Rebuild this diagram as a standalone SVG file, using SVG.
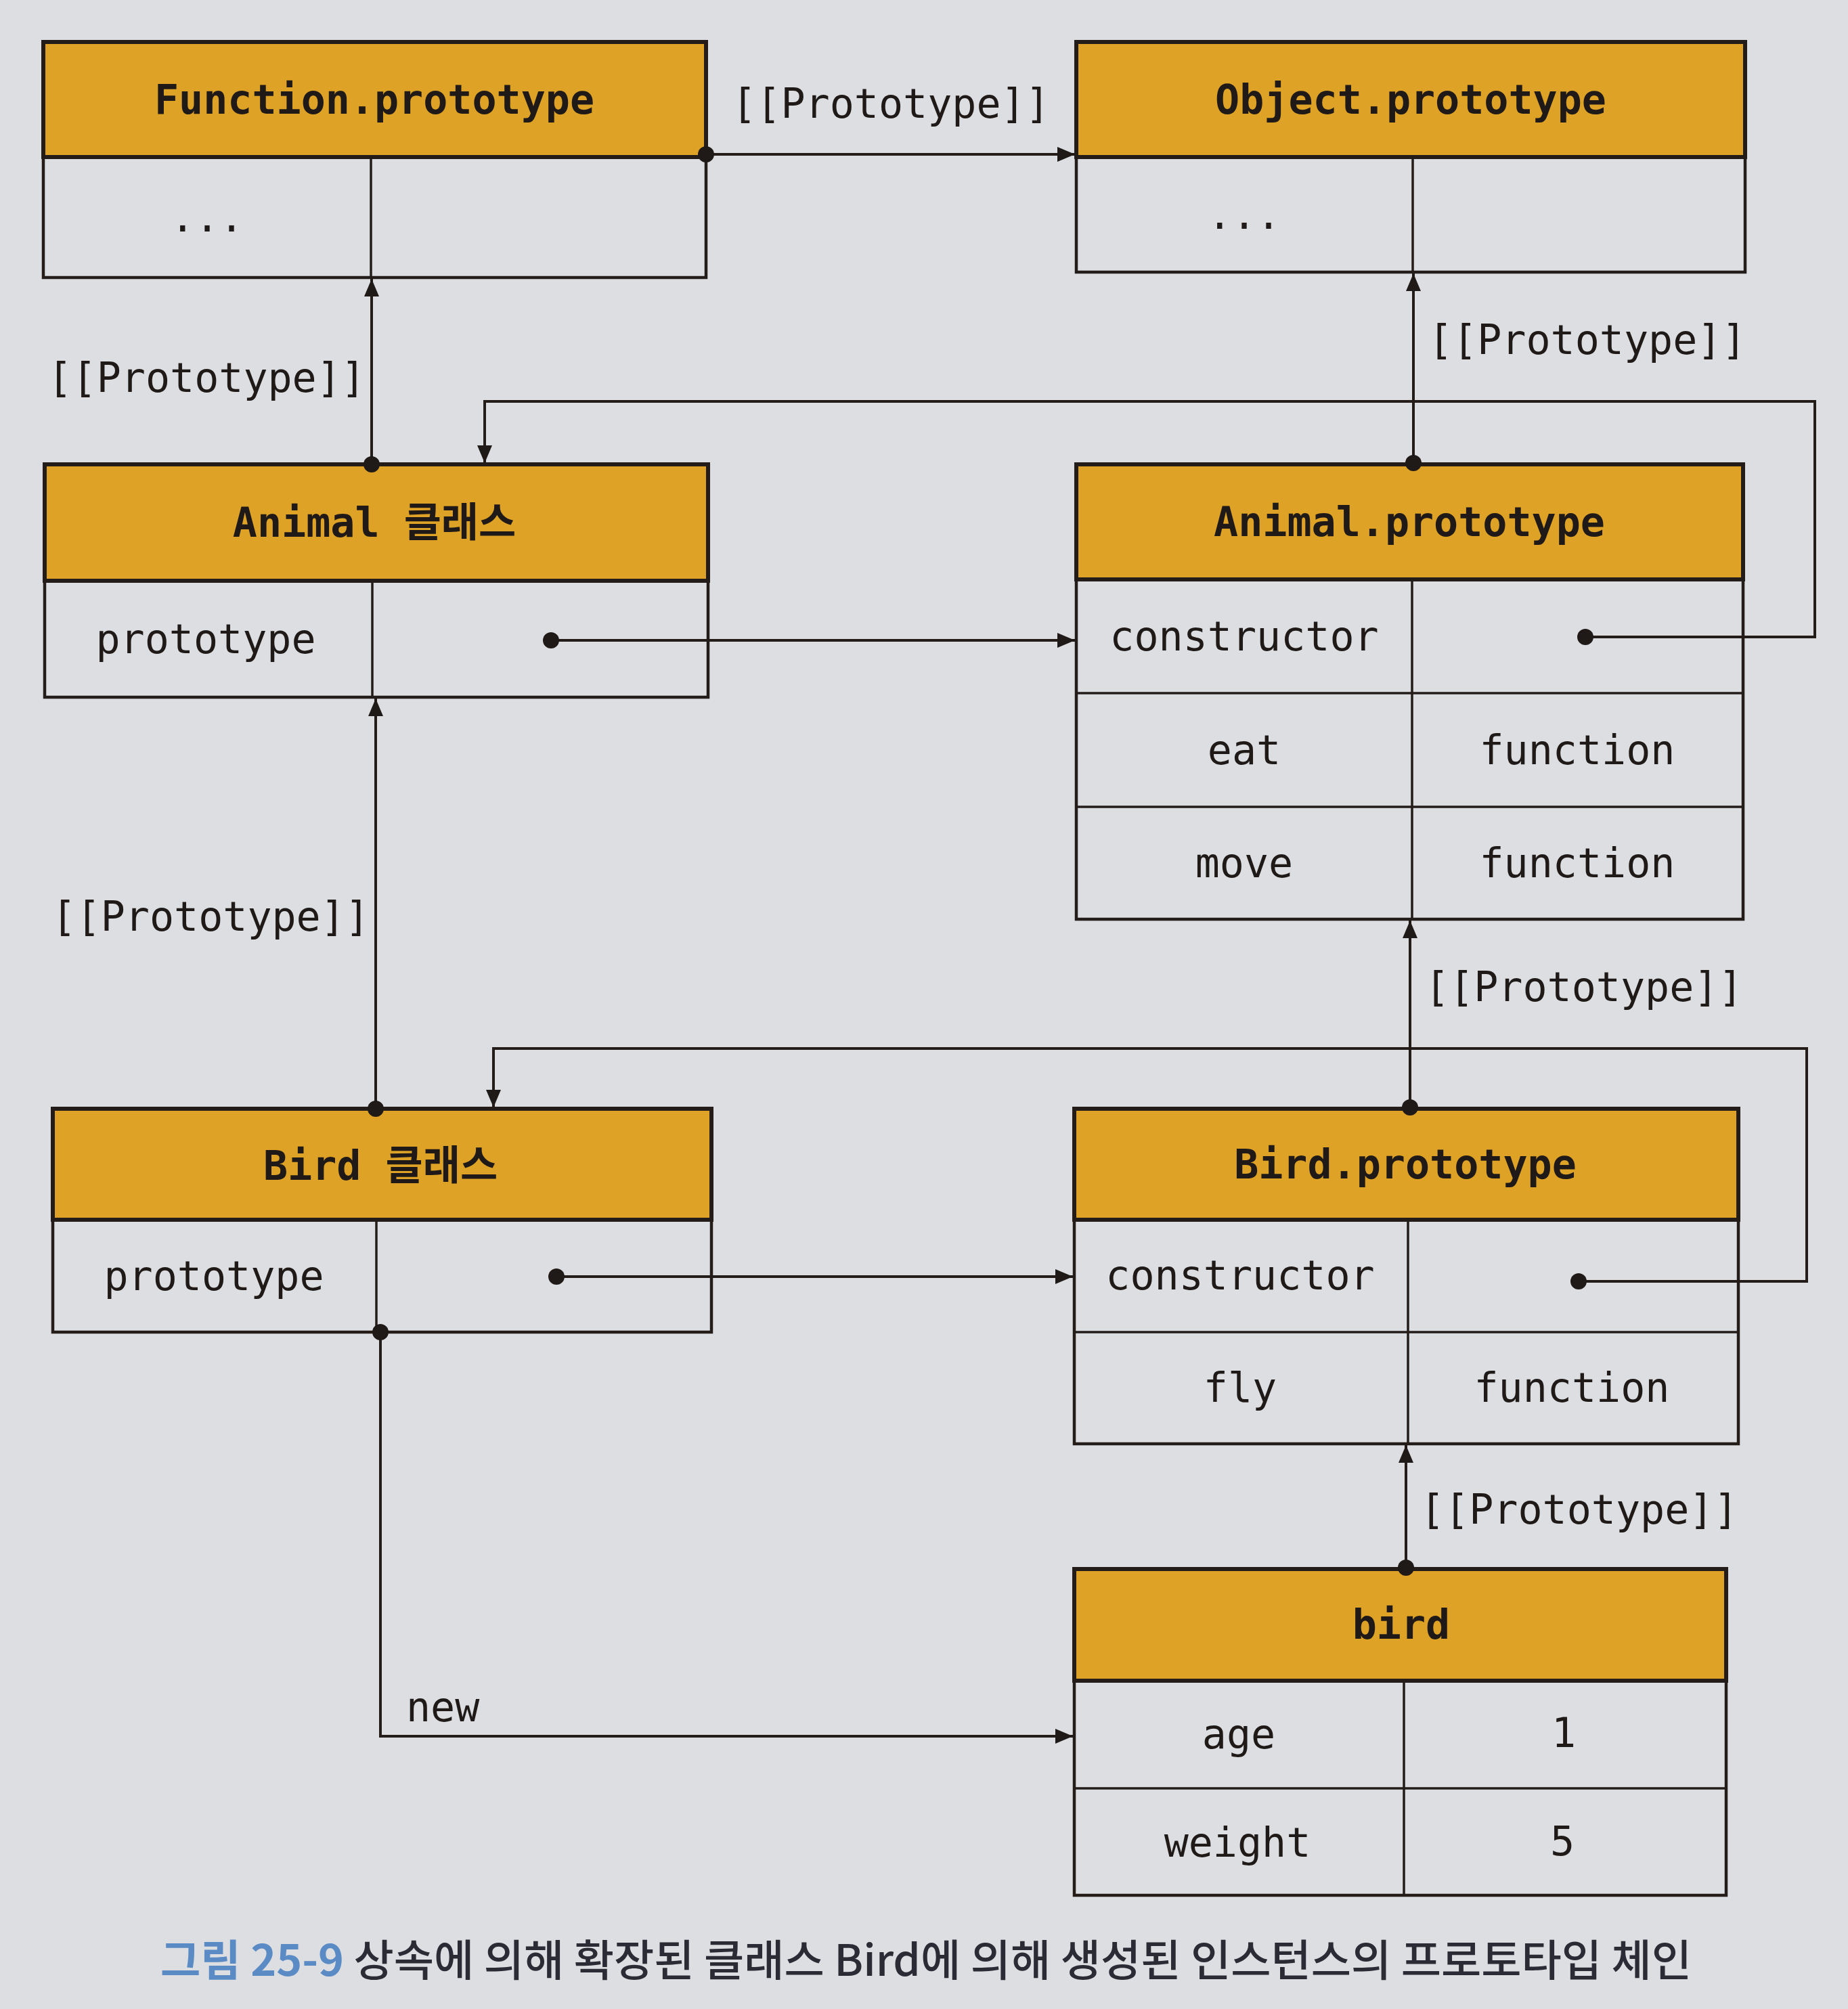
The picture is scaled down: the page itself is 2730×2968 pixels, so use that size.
<svg xmlns="http://www.w3.org/2000/svg" width="2730" height="2968" viewBox="0 0 2730 2968">
<style>
.bg{fill:#dcdee1}
.hdr{fill:#dea226;stroke:#231c18;stroke-width:6}
.body{fill:none;stroke:#231c18;stroke-width:4.5}
.div{stroke:#231c18;stroke-width:3.5;fill:none}
.t{font-family:"DejaVu Sans Mono","Noto Sans CJK KR",monospace;font-size:60px;fill:#1f1a17;dominant-baseline:central}
.tb{font-weight:bold}
.mid{text-anchor:middle}
.end{text-anchor:end}
.conn{stroke:#231c18;stroke-width:4;fill:none}
.dot{fill:#1f1a17}
.cap{font-family:"Noto Sans CJK KR","Noto Sans",sans-serif;font-size:64px;dominant-baseline:central}
</style>
<defs>
<marker id="arr" markerUnits="userSpaceOnUse" markerWidth="28" markerHeight="24" refX="26" refY="11" orient="auto">
<path d="M0,0 L26,11 L0,22 z" fill="#1f1a17"/>
</marker>
</defs>
<rect class="bg" x="0" y="0" width="2730" height="2968"/>

<g id="function-prototype">
<rect class="body" x="64" y="62" width="979" height="348"/>
<rect class="hdr" x="64" y="62" width="979" height="170"/>
<line class="div" x1="548" y1="232" x2="548" y2="410"/>
<text class="t tb mid" x="553" y="147">Function.prototype</text>
<text class="t mid" x="306" y="321">...</text>
</g>

<g id="object-prototype">
<rect class="body" x="1590" y="62" width="988" height="340"/>
<rect class="hdr" x="1590" y="62" width="988" height="170"/>
<line class="div" x1="2087" y1="232" x2="2087" y2="402"/>
<text class="t tb mid" x="2084" y="147">Object.prototype</text>
<text class="t mid" x="1838" y="317">...</text>
</g>

<g id="animal-class">
<rect class="body" x="66" y="686" width="980" height="344"/>
<rect class="hdr" x="66" y="686" width="980" height="172"/>
<line class="div" x1="550" y1="858" x2="550" y2="1030"/>
<text class="t tb mid" x="553" y="772">Animal 클래스</text>
<text class="t mid" x="304" y="944">prototype</text>
</g>

<g id="animal-prototype">
<rect class="body" x="1590" y="686" width="985" height="672"/>
<rect class="hdr" x="1590" y="686" width="985" height="170"/>
<line class="div" x1="1590" y1="1024" x2="2575" y2="1024"/>
<line class="div" x1="1590" y1="1192" x2="2575" y2="1192"/>
<line class="div" x1="2086" y1="856" x2="2086" y2="1358"/>
<text class="t tb mid" x="2082" y="771">Animal.prototype</text>
<text class="t mid" x="1838" y="940">constructor</text>
<text class="t mid" x="1838" y="1108">eat</text>
<text class="t mid" x="1838" y="1275">move</text>
<text class="t mid" x="2330" y="1108">function</text>
<text class="t mid" x="2330" y="1275">function</text>
</g>

<g id="bird-class">
<rect class="body" x="78" y="1638" width="973" height="330"/>
<rect class="hdr" x="78" y="1638" width="973" height="164"/>
<line class="div" x1="556" y1="1802" x2="556" y2="1968"/>
<text class="t tb mid" x="562" y="1722">Bird 클래스</text>
<text class="t mid" x="316" y="1885">prototype</text>
</g>

<g id="bird-prototype">
<rect class="body" x="1587" y="1638" width="981" height="495"/>
<rect class="hdr" x="1587" y="1638" width="981" height="164"/>
<line class="div" x1="1587" y1="1968" x2="2568" y2="1968"/>
<line class="div" x1="2080" y1="1802" x2="2080" y2="2133"/>
<text class="t tb mid" x="2076" y="1720">Bird.prototype</text>
<text class="t mid" x="1832" y="1884">constructor</text>
<text class="t mid" x="1832" y="2050">fly</text>
<text class="t mid" x="2322" y="2050">function</text>
</g>

<g id="bird">
<rect class="body" x="1587" y="2318" width="963" height="482"/>
<rect class="hdr" x="1587" y="2318" width="963" height="165"/>
<line class="div" x1="1587" y1="2642" x2="2550" y2="2642"/>
<line class="div" x1="2074" y1="2483" x2="2074" y2="2800"/>
<text class="t tb mid" x="2070" y="2400">bird</text>
<text class="t mid" x="1830" y="2562">age</text>
<text class="t mid" x="2310" y="2560">1</text>
<text class="t mid" x="1828" y="2722">weight</text>
<text class="t mid" x="2308" y="2720">5</text>
</g>

<g id="connectors">
<line class="conn" x1="1043" y1="228" x2="1588" y2="228" marker-end="url(#arr)"/>
<circle class="dot" cx="1043" cy="228" r="12"/>
<text class="t mid" x="1316" y="153">[[Prototype]]</text>

<line class="conn" x1="549" y1="686" x2="549" y2="412" marker-end="url(#arr)"/>
<circle class="dot" cx="549" cy="686" r="12"/>
<text class="t end" x="540" y="558">[[Prototype]]</text>

<line class="conn" x1="2088" y1="684" x2="2088" y2="404" marker-end="url(#arr)"/>
<circle class="dot" cx="2088" cy="684" r="12"/>
<text class="t" x="2110" y="502">[[Prototype]]</text>

<line class="conn" x1="814" y1="946" x2="1588" y2="946" marker-end="url(#arr)"/>
<circle class="dot" cx="814" cy="946" r="12"/>

<polyline class="conn" points="2342,941 2681,941 2681,593 716,593 716,684" marker-end="url(#arr)"/>
<circle class="dot" cx="2342" cy="941" r="12"/>

<line class="conn" x1="555" y1="1638" x2="555" y2="1032" marker-end="url(#arr)"/>
<circle class="dot" cx="555" cy="1638" r="12"/>
<text class="t end" x="546" y="1354">[[Prototype]]</text>

<line class="conn" x1="2083" y1="1636" x2="2083" y2="1360" marker-end="url(#arr)"/>
<circle class="dot" cx="2083" cy="1636" r="12"/>
<text class="t" x="2105" y="1458">[[Prototype]]</text>

<line class="conn" x1="822" y1="1886" x2="1585" y2="1886" marker-end="url(#arr)"/>
<circle class="dot" cx="822" cy="1886" r="12"/>

<polyline class="conn" points="2332,1893 2669,1893 2669,1549 729,1549 729,1636" marker-end="url(#arr)"/>
<circle class="dot" cx="2332" cy="1893" r="12"/>

<line class="conn" x1="2077" y1="2316" x2="2077" y2="2135" marker-end="url(#arr)"/>
<circle class="dot" cx="2077" cy="2316" r="12"/>
<text class="t" x="2098" y="2230">[[Prototype]]</text>

<polyline class="conn" points="562,1968 562,2565 1585,2565" marker-end="url(#arr)"/>
<circle class="dot" cx="562" cy="1968" r="12"/>
<text class="t" x="600" y="2522">new</text>
</g>

<text class="cap" x="237" y="2891" textLength="2262" lengthAdjust="spacingAndGlyphs"><tspan fill="#5b8bc4" font-weight="bold">그림 25-9</tspan><tspan fill="#2b2b36" font-weight="500"> 상속에 의해 확장된 클래스 Bird에 의해 생성된 인스턴스의 프로토타입 체인</tspan></text>
</svg>
